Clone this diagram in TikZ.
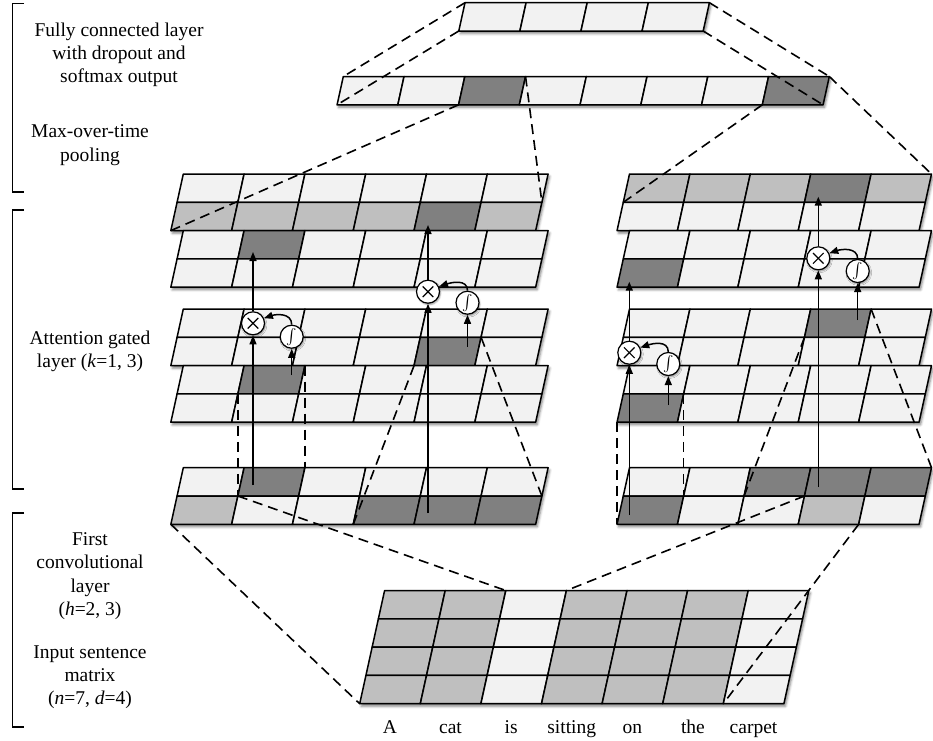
\documentclass[tikz,border=0pt]{standalone}
\usepackage{fontspec}
\usepackage{graphicx}
\setmainfont{Liberation Serif}
\usetikzlibrary{arrows.meta,shadows.blur,calc}
\definecolor{cL}{HTML}{F2F2F2}
\definecolor{cM}{HTML}{BFBFBF}
\definecolor{cD}{HTML}{808080}
\tikzset{
 cell/.style={draw=black, line width=1.5pt, line join=round},
 layershadow/.style={fill=white, blur shadow={shadow xshift=1.5pt, shadow yshift=-2.5pt, shadow blur radius=2.5pt, shadow opacity=50}},
 dashline/.style={draw=black, line width=1.6pt, dash pattern=on 10pt off 6pt},
 arr/.style={draw=black, line width=1.5pt, -{Triangle[length=9pt,width=7pt]}},
 gate/.style={circle, draw=black, line width=1.2pt, fill=white, minimum size=23pt, inner sep=0pt,
   blur shadow={shadow xshift=1pt, shadow yshift=-1.5pt, shadow blur radius=1.5pt, shadow opacity=40}},
 lbl/.style={align=center, font=\fontsize{19.5}{23.3}\selectfont},
 word/.style={font=\fontsize{19.5}{23}\selectfont, anchor=base},
}
% one row of parallelogram cells: #1 top-left x, #2 top y, #3 cell width, #4 row height, #5 colours
\newcommand{\lrow}[5]{%
  \foreach \cc [count=\ii from 0] in {#5}{%
    \filldraw[cell, fill=\cc] ({#1+\ii*(#3)},{#2}) -- ++({#3},0) -- ++({-0.22*(#4)},{#4}) -- ++({-(#3)},0) -- cycle;}}
% shadow under a block: #1 X, #2 Y, #3 total width, #4 height
\newcommand{\blockshadow}[4]{%
  \path[layershadow] ({#1},{#2}) -- ({#1+#3},{#2}) -- ({#1+#3-0.22*(#4)},{#2+#4}) -- ({#1-0.22*(#4)},{#2+#4}) -- cycle;}
% two-row layer: #1 X, #2 Y, #3 w, #4 ncols, #5 row1, #6 row2
\newcommand{\twolayer}[6]{%
  \blockshadow{#1}{#2}{(#4)*(#3)}{56.6}%
  \lrow{#1}{#2}{#3}{28.3}{#5}%
  \lrow{#1-0.22*28.3}{#2+28.3}{#3}{28.3}{#6}}
% named corner: name, X, Y, w, col, row
\newcommand{\cornerpt}[6]{\coordinate (#1) at ({#2+(#5)*(#4)-0.22*(#6)*28.3},{#3+(#6)*28.3});}
\newcommand{\lcrd}[4]{\cornerpt{#1}{183.3}{#2}{60.8}{#3}{#4}}
\newcommand{\rcrd}[4]{\cornerpt{#1}{629.5}{#2}{60.4}{#3}{#4}}
\newcommand{\sigm}{\scalebox{1.55}{$\int$}}
\begin{document}
\begin{tikzpicture}[x=1pt,y=-1pt]
\useasboundingbox (0,0) rectangle (933,740);
% ---------------- brackets and labels
\draw[line width=1.6pt] (24,3.3) -- (12.3,3.3) -- (12.3,192) -- (24,192);
\draw[line width=1.6pt] (24,210) -- (12.3,210) -- (12.3,489) -- (24,489);
\draw[line width=1.6pt] (24,512.7) -- (12.3,512.7) -- (12.3,727) -- (24,727);
\node[lbl] (tfc) at (119,55) {Fully connected layer\\with dropout and\\softmax output};
\node[lbl] (tpool) at (90,145) {Max-over-time\\pooling};
\node[lbl] (tatt) at (90,351) {Attention gated\\layer (\textit{k}=1, 3)};
\node[lbl] (tconv) at (90,576) {First\\convolutional\\layer\\(\textit{h}=2, 3)};
\node[lbl] (tin) at (90,677) {Input sentence\\matrix\\(\textit{n}=7, \textit{d}=4)};
% ---------------- left stack (h=2)
\twolayer{183.3}{174}{60.8}{6}{cL,cL,cL,cL,cL,cL}{cM,cM,cM,cM,cD,cM}
\twolayer{183.3}{230.6}{60.8}{6}{cL,cD,cL,cL,cL,cL}{cL,cL,cL,cL,cL,cL}
\twolayer{183.3}{309}{60.8}{6}{cL,cL,cL,cL,cL,cL}{cL,cL,cL,cL,cD,cL}
\twolayer{183.3}{365.6}{60.8}{6}{cL,cD,cL,cL,cL,cL}{cL,cL,cL,cL,cL,cL}
\twolayer{183.3}{467.7}{60.8}{6}{cL,cD,cL,cL,cL,cL}{cM,cL,cL,cD,cD,cD}
% ---------------- right stack (h=3)
\twolayer{629.5}{174}{60.4}{5}{cM,cM,cM,cD,cM}{cL,cL,cL,cL,cL}
\twolayer{629.5}{230.6}{60.4}{5}{cL,cL,cL,cL,cL}{cD,cL,cL,cL,cL}
\twolayer{629.5}{309}{60.4}{5}{cL,cL,cL,cD,cL}{cL,cL,cL,cL,cL}
\twolayer{629.5}{365.6}{60.4}{5}{cL,cL,cL,cL,cL}{cD,cL,cL,cL,cL}
\twolayer{629.5}{467.7}{60.4}{5}{cL,cL,cD,cD,cD}{cD,cL,cL,cM,cL}
% ---------------- pooling and fully connected
\blockshadow{343.3}{76.5}{8*60.75}{28.3}
\lrow{343.3}{76.5}{60.75}{28.3}{cL,cL,cD,cL,cL,cL,cL,cD}
\blockshadow{465}{2.7}{4*61.1}{28.3}
\lrow{465}{2.7}{61.1}{28.3}{cL,cL,cL,cL}
% ---------------- input matrix
\blockshadow{384.6}{590.5}{7*60.6}{113.2}
\foreach \rr in {0,1,2,3}{%
  \lrow{384.6-0.22*\rr*28.3}{590.5+\rr*28.3}{60.6}{28.3}{cM,cM,cL,cM,cM,cM,cL}}
% ---------------- words
\node[word] (w1) at (389.9,733) {A};
\node[word] (w2) at (450.5,733) {cat};
\node[word] (w3) at (511.1,733) {is};
\node[word] (w4) at (571.7,733) {sitting};
\node[word] (w5) at (632.3,733) {on};
\node[word] (w6) at (692.9,733) {the};
\node[word] (w7) at (753.5,733) {carpet};
% ---------------- named corners
\cornerpt{fcTL}{465}{2.7}{61.1}{0}{0}
\cornerpt{fcBL}{465}{2.7}{61.1}{0}{1}
\cornerpt{fcTR}{465}{2.7}{61.1}{4}{0}
\cornerpt{fcBR}{465}{2.7}{61.1}{4}{1}
\cornerpt{pTL}{343.3}{76.5}{60.75}{0}{0}
\cornerpt{pBL}{343.3}{76.5}{60.75}{0}{1}
\cornerpt{pTR}{343.3}{76.5}{60.75}{8}{0}
\cornerpt{pBR}{343.3}{76.5}{60.75}{8}{1}
\cornerpt{pthreeTR}{343.3}{76.5}{60.75}{3}{0}
\cornerpt{pthreeBL}{343.3}{76.5}{60.75}{2}{1}
\cornerpt{peightBL}{343.3}{76.5}{60.75}{7}{1}
\lcrd{aTR}{174}{6}{1}
\lcrd{aBL}{174}{0}{2}
\rcrd{arTR}{174}{5}{0}
\rcrd{arBL}{174}{0}{1}
\lcrd{dTR}{365.6}{2}{0}
\lcrd{eTR}{467.7}{2}{0}
\lcrd{dBL}{365.6}{1}{1}
\lcrd{eBL}{467.7}{1}{1}
\lcrd{cBL}{309}{4}{2}
\lcrd{efBL}{467.7}{3}{2}
\lcrd{cTR}{309}{5}{1}
\lcrd{esTR}{467.7}{6}{1}
\lcrd{eZero}{467.7}{0}{2}
\rcrd{drTR}{365.6}{1}{1}
\rcrd{erTR}{467.7}{1}{1}
\rcrd{drBL}{365.6}{0}{2}
\rcrd{erBL}{467.7}{0}{2}
\rcrd{crBL}{309}{3}{1}
\rcrd{ertBL}{467.7}{2}{1}
\rcrd{crTR}{309}{4}{0}
\rcrd{erfTR}{467.7}{5}{0}
\rcrd{erqTL}{467.7}{3}{1}
\rcrd{erqBR}{467.7}{4}{2}
\cornerpt{iBL}{384.6}{590.5}{60.6}{0}{4}
\cornerpt{itwoT}{384.6}{590.5}{60.6}{2}{0}
\cornerpt{ithreeT}{384.6}{590.5}{60.6}{3}{0}
\cornerpt{isixB}{384.6}{590.5}{60.6}{6}{4}
% ---------------- dashed projection lines
\draw[dashline] (fcTL) -- (pTL);
\draw[dashline] (fcBL) -- (pBL);
\draw[dashline] (fcTR) -- (pTR);
\draw[dashline] (fcBR) -- (pBR);
\draw[dashline] (pthreeTR) -- (aTR);
\draw[dashline] (pthreeBL) -- (aBL);
\draw[dashline] (pTR) -- (arTR);
\draw[dashline] (peightBL) -- (arBL);
\draw[dashline] (dTR) -- (eTR);
\draw[dashline] (dBL) -- (eBL);
\draw[dashline] (cBL) -- (efBL);
\draw[dashline] (cTR) -- (esTR);
\draw[dashline] (drTR) -- (erTR);
\draw[dashline] (drBL) -- (erBL);
\draw[dashline] (crBL) -- (ertBL);
\draw[dashline] (crTR) -- (erfTR);
\draw[dashline] (eZero) -- (iBL);
\draw[dashline] (eBL) -- (itwoT);
\draw[dashline] (erqTL) -- (ithreeT);
\draw[dashline] (erqBR) -- (isixB);
% ---------------- gates
\node[gate] (g1) at (253,323.3) {};
\node[gate] (s1) at (291.7,336.7) {\sigm};
\node[gate] (g2) at (428,291.7) {};
\node[gate] (s2) at (467.5,302.7) {\sigm};
\node[gate] (g3) at (818.3,258.3) {};
\node[gate] (s3) at (857.7,271) {\sigm};
\node[gate] (g4) at (629.3,352.7) {};
\node[gate] (s4) at (668.3,364) {\sigm};
\foreach \g in {g1,g2,g3,g4}{%
  \draw[line width=1.2pt] ($(\g)!0.62!(\g.45)$) -- ($(\g)!0.62!(\g.225)$);
  \draw[line width=1.2pt] ($(\g)!0.62!(\g.135)$) -- ($(\g)!0.62!(\g.315)$);}
\coordinate (gonein) at (253,485);   \coordinate (goneout) at (253,252);   \coordinate (sonein) at (291.7,375);
\coordinate (gtwoin) at (428,513);   \coordinate (gtwoout) at (428,225);   \coordinate (stwoin) at (467.5,346.7);
\coordinate (gthreein) at (818.3,487); \coordinate (gthreeout) at (818.3,196.7); \coordinate (sthreein) at (857.7,320);
\coordinate (gfourin) at (629.3,515); \coordinate (gfourout) at (629.3,281.7); \coordinate (sfourin) at (668.3,405);
\draw[arr] (gonein) -- (g1.south);
\draw[arr] (g1.north) -- (goneout);
\draw[arr] (sonein) -- (s1.south);
\draw[arr] (s1.north) .. controls +(0,-12) and +(12,-4) .. (g1.25);
\draw[arr] (gtwoin) -- (g2.south);
\draw[arr] (g2.north) -- (gtwoout);
\draw[arr] (stwoin) -- (s2.south);
\draw[arr] (s2.north) .. controls +(0,-12) and +(12,-4) .. (g2.25);
\draw[arr] (gthreein) -- (g3.south);
\draw[arr] (g3.north) -- (gthreeout);
\draw[arr] (sthreein) -- (s3.south);
\draw[arr] (s3.north) .. controls +(0,-12) and +(12,-4) .. (g3.25);
\draw[arr] (gfourin) -- (g4.south);
\draw[arr] (g4.north) -- (gfourout);
\draw[arr] (sfourin) -- (s4.south);
\draw[arr] (s4.north) .. controls +(0,-12) and +(12,-4) .. (g4.25);
\end{tikzpicture}
\end{document}
